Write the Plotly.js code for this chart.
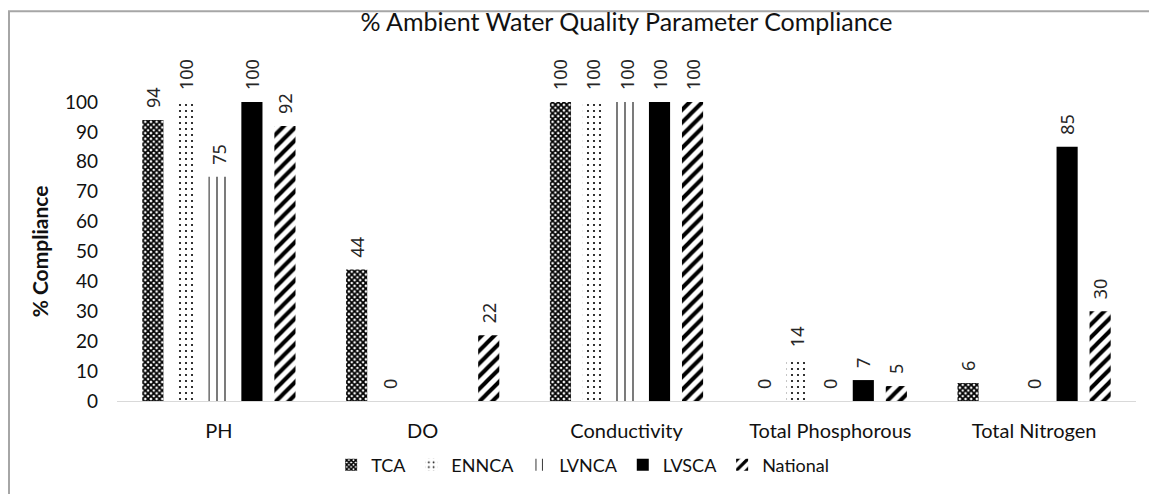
<!DOCTYPE html>
<html>
<head>
<meta charset="utf-8">
<script src="https://cdn.plot.ly/plotly-3.0.1.min.js"></script>
<style>html,body{margin:0;padding:0;background:#fff;}#chart{width:1149px;height:494px;}</style>
</head>
<body>
<div id="chart"></div>
<script>
const categories = ["PH", "DO", "Conductivity", "Total Phosphorous", "Total Nitrogen"];
const seriesNames = ["TCA", "ENNCA", "LVNCA", "LVSCA", "National"];
const TCA = [94, 44, 100, 0, 6];
const ENNCA = [100, 0, 100, 14, null];
const LVNCA = [75, null, 100, 0, 0];
const LVSCA = [100, null, 100, 7, 85];
const National = [92, 22, 100, 5, 30];
const yTicks = [0, 10, 20, 30, 40, 50, 60, 70, 80, 90, 100];

const seriesValues = [TCA, ENNCA, LVNCA, LVSCA, National];
const patterns = [
  {shape: "x", size: 4, solidity: 0.7, fgcolor: "#000", bgcolor: "#fff"},
  {shape: ".", size: 6, solidity: 0.1, fgcolor: "#000", bgcolor: "#fff"},
  {shape: "|", size: 8, solidity: 0.15, fgcolor: "#222", bgcolor: "#fff"},
  null,
  {shape: "/", size: 9, solidity: 0.45, fgcolor: "#000", bgcolor: "#fff"}
];

const FONT = "Lato, Open Sans, sans-serif";

const traces = seriesNames.map((name, i) => {
  const marker = {color: i === 3 ? "#000" : "#fff", line: {width: 0}};
  if (patterns[i]) marker.pattern = patterns[i];
  return {
    type: "bar",
    name: name,
    x: categories,
    y: seriesValues[i],
    text: seriesValues[i].map(v => v === null ? "" : "\u2002" + String(v)),
    textposition: "outside",
    textangle: -90,
    constraintext: "none",
    cliponaxis: false,
    textfont: {family: "Noto Sans, Open Sans, sans-serif", size: 18, color: "#262626"},
    marker: marker,
    hoverinfo: "x+y+name"
  };
});

const layout = {
  width: 1149,
  height: 494,
  margin: {l: 117, r: 13, t: 102, b: 92},
  paper_bgcolor: "#fff",
  plot_bgcolor: "#fff",
  barmode: "group",
  bargap: 0.19,
  bargroupgap: 0.36,
  font: {family: FONT, color: "#000"},
  title: {
    text: "% Ambient Water Quality Parameter Compliance",
    font: {family: FONT, size: 25, color: "#111"},
    x: 0.5, xref: "paper", xanchor: "center",
    y: 0.955, yref: "container", yanchor: "middle"
  },
  xaxis: {
    type: "category",
    showline: true, linecolor: "#d9d9d9", linewidth: 1,
    showgrid: false, ticks: "",
    tickfont: {family: FONT, size: 20, color: "#111"},
    ticklabelstandoff: 12,
    fixedrange: true
  },
  yaxis: {
    range: [0, 100],
    tickvals: yTicks,
    ticktext: yTicks.map(String),
    showgrid: false, zeroline: false, showline: false, ticks: "",
    tickfont: {family: FONT, size: 19, color: "#111"},
    ticklabelstandoff: 18,
    title: {text: "<b>% Compliance</b>", font: {family: FONT, size: 21, color: "#111"}, standoff: 10},
    fixedrange: true
  },
  legend: {
    orientation: "h",
    x: 0.457, xanchor: "center",
    y: -0.21, yanchor: "middle",
    font: {family: FONT, size: 18, color: "#111"},
    itemwidth: 30,
    tracegroupgap: 0
  },
  showlegend: true,
  shapes: [
    {type: "rect", xref: "paper", yref: "paper", layer: "below",
     x0: (9 - 117) / 1019, x1: (1160 - 117) / 1019,
     y0: (402 - 510) / 300, y1: (402 - 11) / 300,
     line: {color: "#a6a6a6", width: 2}, fillcolor: "rgba(0,0,0,0)"}
  ]
};

Plotly.newPlot("chart", traces, layout, {displayModeBar: false, staticPlot: true});
</script>
</body>
</html>
